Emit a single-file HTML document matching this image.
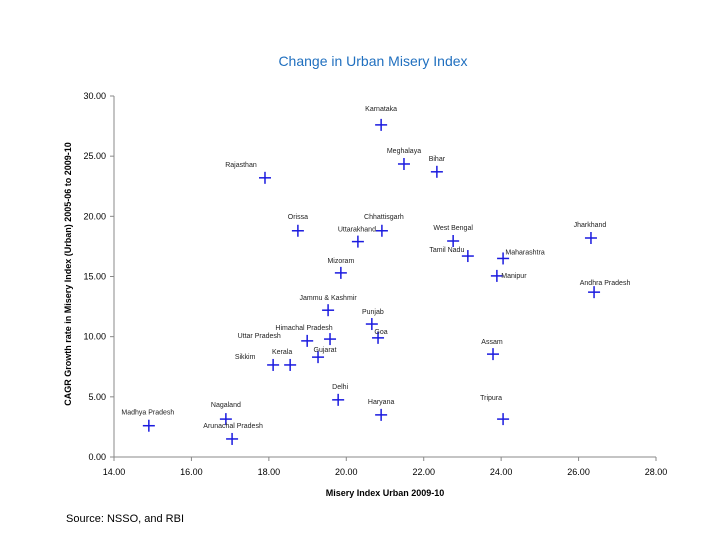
<!DOCTYPE html>
<html><head><meta charset="utf-8"><style>
body{margin:0;background:#fff;font-family:"Liberation Sans",sans-serif}
svg text{font-family:"Liberation Sans",sans-serif}
</style></head><body>
<svg id="chart" width="728" height="546" viewBox="0 0 728 546" xmlns="http://www.w3.org/2000/svg">
<text x="373" y="66" text-anchor="middle" font-size="14" fill="#1f6fbf">Change in Urban Misery Index</text>
<g id="axes"></g>
<g id="points"></g>
<text x="385" y="496" text-anchor="middle" font-size="9" font-weight="bold" fill="#000">Misery Index Urban 2009-10</text>
<text transform="translate(71,274) rotate(-90)" text-anchor="middle" font-size="9" font-weight="bold" fill="#000">CAGR Growth rate in Misery Index (Urban) 2005-06  to 2009-10</text>
<text x="66" y="522" font-size="11" fill="#000">Source: NSSO, and RBI</text>
</svg>
<script>
const states=["Karnataka","Meghalaya","Bihar","Rajasthan","Orissa","Chhattisgarh","Uttarakhand","West Bengal","Jharkhand","Tamil Nadu","Maharashtra","Mizoram","Manipur","Andhra Pradesh","Jammu & Kashmir","Punjab","Goa","Himachal Pradesh","Uttar Pradesh","Gujarat","Assam","Kerala","Sikkim","Delhi","Haryana","Tripura","Nagaland","Madhya Pradesh","Arunachal Pradesh"];
const miseryIndex=[20.90,21.49,22.34,17.90,18.75,20.92,20.30,22.76,26.32,23.14,24.05,19.86,23.89,26.40,19.53,20.66,20.82,19.58,18.99,19.27,23.79,18.11,18.55,19.79,20.90,24.05,16.89,14.90,17.05];
const cagr=[27.6,24.35,23.7,23.2,18.8,18.8,17.9,17.95,18.2,16.7,16.5,15.3,15.05,13.7,12.2,11.05,9.9,9.8,9.65,8.3,8.55,7.65,7.65,4.75,3.5,3.15,3.15,2.6,1.5];
const xTicks=[14,16,18,20,22,24,26,28];
const yTicks=[0,5,10,15,20,25,30];
const labelDx=[0,0,0,-24,0,2,-1,0,-1,-21,22,0,17,11,0,1,3,-26,-48,7,-1,9,-45,2,0,-12,0,-1,1];
const labelDy=[-17,-14,-14,-14,-15,-15,-13,-14,-14,-7,-7,-13,-1,-10,-13,-13,-7,-12,-6,-8,-13,-14,-9,-14,-14,-22,-15,-14,-14];
const X0=114,X1=656,Y0=457,Y1=96;
const xs=v=>X0+(v-14)/(28-14)*(X1-X0);
const ys=v=>Y0-(v-0)/(30-0)*(Y0-Y1);
const NS="http://www.w3.org/2000/svg";
function mk(tag,attrs,parent,txt){const e=document.createElementNS(NS,tag);for(const k in attrs)e.setAttribute(k,attrs[k]);if(txt!==undefined)e.textContent=txt;parent.appendChild(e);return e;}
const ax=document.getElementById('axes');
const yl=mk('line',{x1:X0,y1:Y1,x2:X0,y2:Y0,stroke:'#888','stroke-width':1},ax);


const xl=mk('line',{x1:X0,y1:Y0,x2:X1,y2:Y0,stroke:'#888','stroke-width':1},ax);


xTicks.forEach(t=>{
  mk('line',{x1:xs(t),y1:Y0,x2:xs(t),y2:Y0+4,stroke:'#888'},ax);
  const tx=mk('text',{x:xs(t),y:Y0+18,'text-anchor':'middle','font-size':9},ax,t.toFixed(2));
  
  
});
yTicks.forEach(t=>{
  mk('line',{x1:X0-4,y1:ys(t),x2:X0,y2:ys(t),stroke:'#888'},ax);
  const tx=mk('text',{x:X0-8,y:ys(t)+3,'text-anchor':'end','font-size':9},ax,t.toFixed(2));
  
  
});
const pg=document.getElementById('points');
states.forEach((s,i)=>{
  const g=mk('g',{},pg);
  
  
  const px=xs(miseryIndex[i]),py=ys(cagr[i]);
  mk('line',{x1:px-6,y1:py,x2:px+6,y2:py,stroke:'#1a1adf','stroke-width':1.5},g);
  mk('line',{x1:px,y1:py-6,x2:px,y2:py+6,stroke:'#1a1adf','stroke-width':1.5},g);
  const t=mk('text',{x:px+labelDx[i],y:py+labelDy[i]+3,'text-anchor':'middle','font-size':7,fill:'#222'},g,s);
  
  
});
</script>
</body></html>
